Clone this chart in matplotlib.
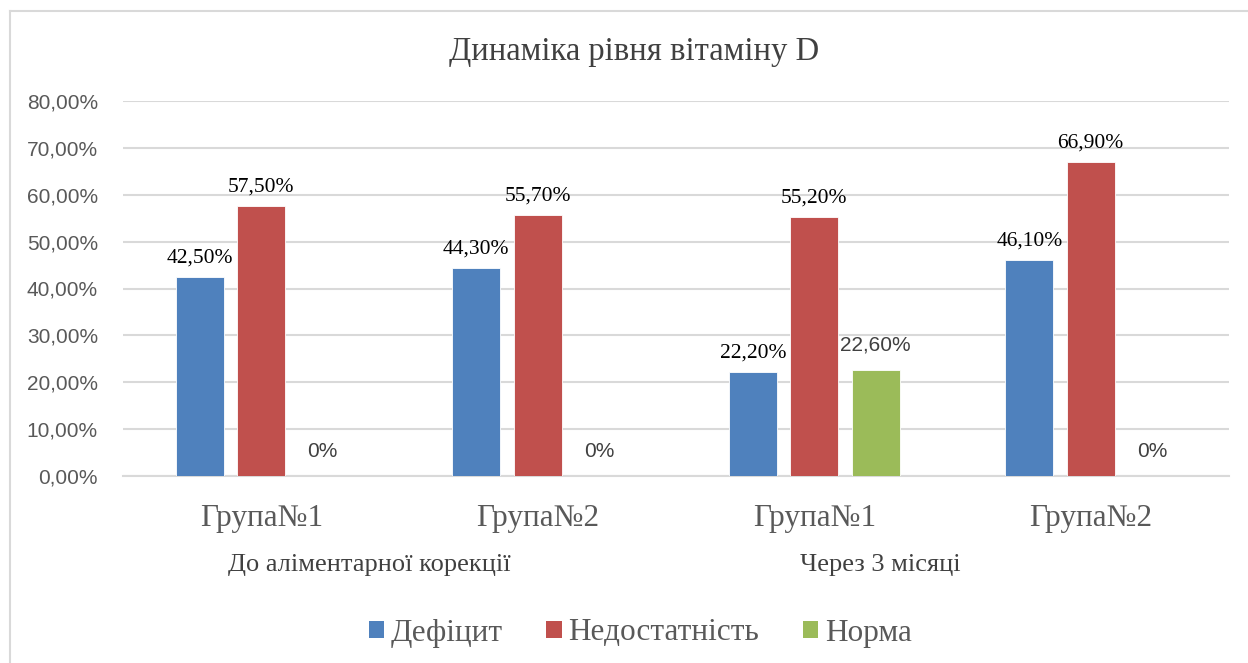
import matplotlib
matplotlib.use("Agg")
import matplotlib.pyplot as plt
from matplotlib.ticker import FuncFormatter, MultipleLocator
from matplotlib.patches import Patch
from matplotlib.lines import Line2D
import numpy as np

# Data
categories = ["Група№1", "Група№2", "Група№1", "Група№2"]
periods = ["До аліментарної корекції", "Через 3 місяці"]
series_names = ["Дефіцит", "Недостатність", "Норма"]
deficit = [42.5, 44.3, 22.2, 46.1]
insufficiency = [57.5, 55.7, 55.2, 66.9]
norm = [0.0, 0.0, 22.6, 0.0]

colors = ["#4f81bd", "#c0504d", "#9bbb59"]
serif = ["Liberation Serif", "DejaVu Serif"]
sans = ["Liberation Sans", "DejaVu Sans"]

fig = plt.figure(figsize=(12.48, 6.63), dpi=100)
ax = fig.add_axes([123 / 1248, 1 - 476 / 663, (1229 - 123) / 1248, (476 - 101) / 663])

x = np.arange(len(categories))
slot = 0.222
width = 0.174
all_series = [deficit, insufficiency, norm]

for i, (vals, col) in enumerate(zip(all_series, colors)):
    offs = (i - 1) * slot
    ax.bar(x + offs, vals, width=width, color=col, edgecolor="white",
           linewidth=0.6, zorder=3)
    for xi, v in zip(x, vals):
        txt = "0%" if v == 0 else f"{v:.2f}".replace(".", ",") + "%"
        if v == 0 or i == 2:
            ax.annotate(txt, (xi + offs, v), xytext=(0, 11), textcoords="offset points",
                        ha="center", va="bottom", fontsize=15, family=sans,
                        color="#404040")
        else:
            ax.annotate(txt, (xi + offs, v), xytext=(0, 7), textcoords="offset points",
                        ha="center", va="bottom", fontsize=15.5, family=serif,
                        color="black")

ax.set_xlim(-0.5, len(categories) - 0.5)
ax.set_ylim(0, 80)
ax.yaxis.set_major_locator(MultipleLocator(10))
ax.yaxis.set_major_formatter(FuncFormatter(lambda v, p: f"{v:.2f}".replace(".", ",") + "%"))
ax.grid(axis="y", color="#d9d9d9", linewidth=1.5, zorder=0)
ax.set_axisbelow(True)
for s in ["top", "right", "left"]:
    ax.spines[s].set_visible(False)
ax.spines["bottom"].set_color("#d9d9d9")
ax.spines["bottom"].set_linewidth(1.5)
ax.tick_params(axis="y", length=0, pad=18, labelsize=15, labelcolor="#595959")
for lab in ax.get_yticklabels():
    lab.set_family(sans)
ax.set_xticks(x)
ax.set_xticklabels(categories, fontsize=22.5, family=serif, color="#595959")
ax.tick_params(axis="x", length=0, pad=20)

# Period labels under the category labels
period_pos = [0.391, 2.239]
for pos, name in zip(period_pos, periods):
    ax.text(pos, -0.238, name, transform=ax.get_xaxis_transform(), ha="center",
            va="center", fontsize=19, family=serif, color="#404040")

fig.text(634 / 1248, 1 - 52 / 663, "Динаміка рівня вітаміну D", ha="center",
         va="center", fontsize=23.5, family=serif, color="#404040")

handles = [Patch(facecolor=c, edgecolor="none") for c in colors]
leg = fig.legend(handles, series_names, loc="center", bbox_to_anchor=(640 / 1248, 1 - 633 / 663),
                 ncol=3, frameon=False, prop={"family": serif, "size": 22.5},
                 handlelength=0.5, handleheight=0.5, handletextpad=0.2, columnspacing=1.4)
for t in leg.get_texts():
    t.set_color("#595959")

# Outer chart frame
fig.add_artist(Line2D([10 / 1248, 10 / 1248], [0, 1 - 11 / 663], transform=fig.transFigure,
                      color="#d9d9d9", linewidth=1.5))
fig.add_artist(Line2D([10 / 1248, 1], [1 - 11 / 663, 1 - 11 / 663], transform=fig.transFigure,
                      color="#d9d9d9", linewidth=1.5))

fig.savefig("out.png", dpi=100, facecolor="white")
